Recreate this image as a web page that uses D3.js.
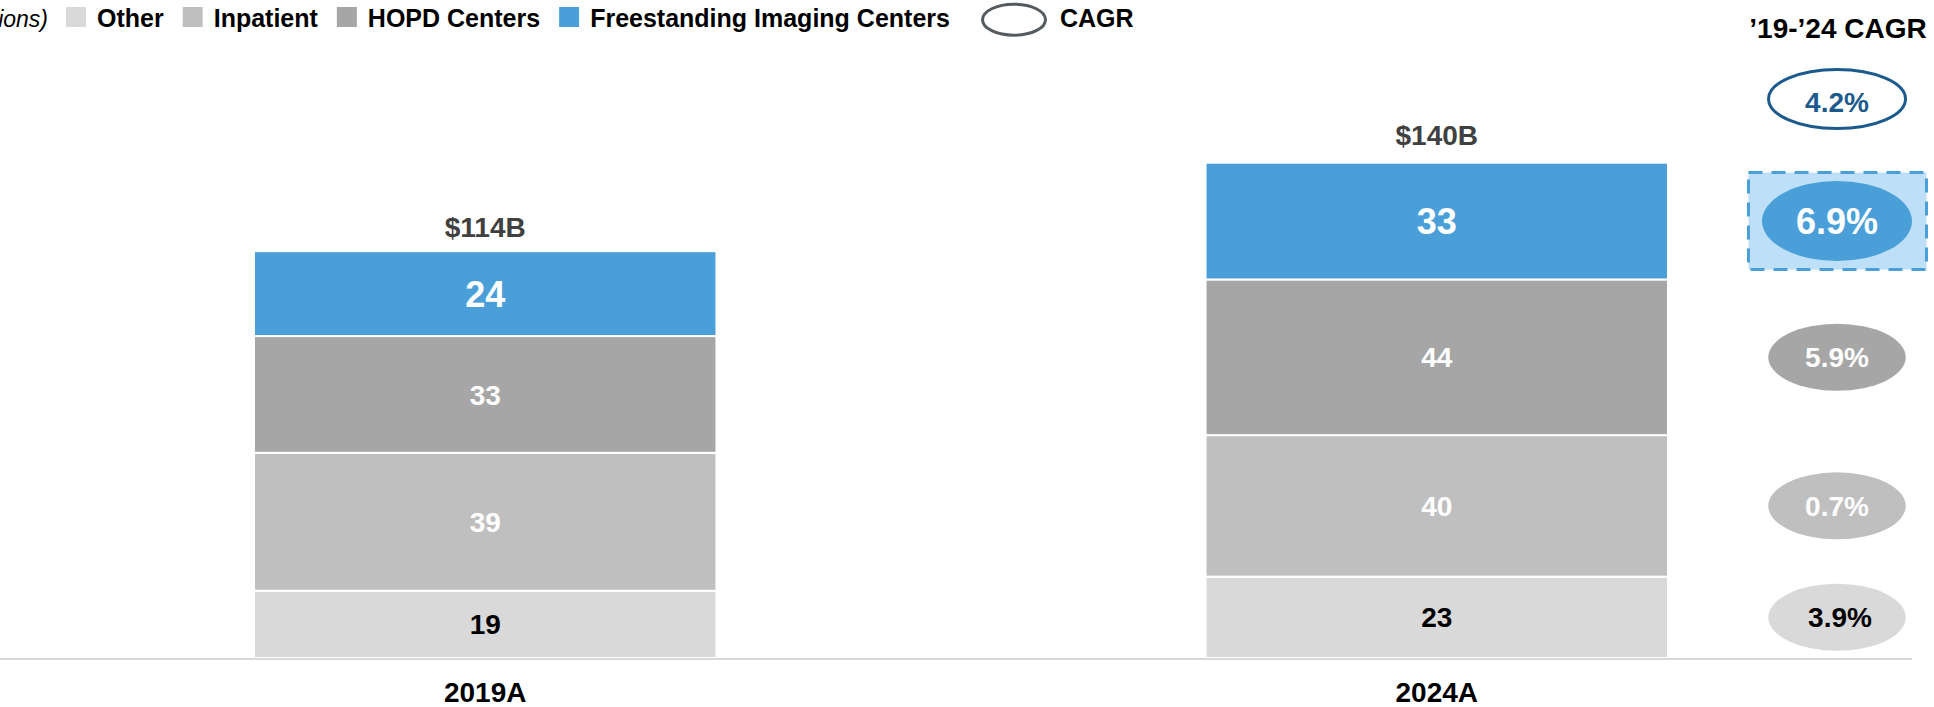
<!DOCTYPE html>
<html>
<head>
<meta charset="utf-8">
<script src="https://cdnjs.cloudflare.com/ajax/libs/d3/7.8.5/d3.min.js"></script>
<style>
    body { margin: 0; background: #fff; }
    text { font-family: "Liberation Sans", Arial, sans-serif; }
</style>
</head>
<body>
<div id="chart"></div>
<script>
// data
var years = ["2019A", "2024A"];
var segments = ["Other", "Inpatient", "HOPD Centers", "Freestanding Imaging Centers"];
var otherVals = [19, 23];
var inpatientVals = [39, 40];
var hopdVals = [33, 44];
var freestandingVals = [24, 33];
var totals = [114, 140];
var cagrLabels = ["3.9%", "0.7%", "5.9%", "6.9%"];   // same order as segments
var totalCagr = "4.2%";

var segColors = ["#d9d9d9", "#bfbfbf", "#a6a6a6", "#4a9fd8"];
var segText = ["#000000", "#ffffff", "#ffffff", "#ffffff"];

var width = 1934, height = 707;
var baseY = 658;

var svg = d3.select("#chart").append("svg")
        .attr("width", width)
        .attr("height", height);

var x = d3.scaleBand()
        .domain(years)
        .range([254, 1668])
        .paddingInner(0.514)
        .paddingOuter(0);

var y = d3.scaleLinear()
        .domain([0, 140])
        .range([baseY, 162.7]);

// build rows for the stack
var rows = years.map(function (yr, i) {
    return {
        year: yr,
        "Other": otherVals[i],
        "Inpatient": inpatientVals[i],
        "HOPD Centers": hopdVals[i],
        "Freestanding Imaging Centers": freestandingVals[i]
    };
});
var stacked = d3.stack().keys(segments)(rows);

var layers = svg.selectAll("g.layer")
        .data(stacked)
        .enter().append("g")
        .attr("class", "layer");

layers.selectAll("rect")
        .data(function (d) { return d; })
        .enter().append("rect")
        .attr("x", function (d) { return x(d.data.year); })
        .attr("y", function (d) { return y(d[1]); })
        .attr("width", x.bandwidth())
        .attr("height", function (d) { return y(d[0]) - y(d[1]); })
        .attr("fill", function () { return segColors[d3.select(this.parentNode).datum().index]; })
        .attr("stroke", "#fff")
        .attr("stroke-width", 2);

layers.selectAll("text")
        .data(function (d) { return d; })
        .enter().append("text")
        .attr("x", function (d) { return x(d.data.year) + x.bandwidth() / 2; })
        .attr("y", function (d) { return (y(d[0]) + y(d[1])) / 2; })
        .attr("dy", "0.36em")
        .attr("text-anchor", "middle")
        .attr("font-weight", "bold")
        .attr("font-size", function () {
            return d3.select(this.parentNode).datum().index === 3 ? 36 : 28;
        })
        .attr("fill", function () { return segText[d3.select(this.parentNode).datum().index]; })
        .text(function (d) { return d[1] - d[0]; });

// totals above bars
svg.selectAll("text.total")
        .data(totals)
        .enter().append("text")
        .attr("class", "total")
        .attr("x", function (d, i) { return x(years[i]) + x.bandwidth() / 2; })
        .attr("y", function (d) { return y(d) - 18; })
        .attr("text-anchor", "middle")
        .attr("font-weight", "bold")
        .attr("font-size", 28)
        .attr("fill", "#404040")
        .text(function (d) { return "$" + d + "B"; });

// baseline
svg.append("line")
        .attr("x1", 0)
        .attr("x2", 1912)
        .attr("y1", baseY + 1)
        .attr("y2", baseY + 1)
        .attr("stroke", "#d9d9d9")
        .attr("stroke-width", 2);

// category labels
svg.selectAll("text.year")
        .data(years)
        .enter().append("text")
        .attr("class", "year")
        .attr("x", function (d) { return x(d) + x.bandwidth() / 2; })
        .attr("y", 702)
        .attr("text-anchor", "middle")
        .attr("font-weight", "bold")
        .attr("font-size", 28)
        .attr("fill", "#000")
        .text(function (d) { return d; });

// CAGR column, lined up with the 2024 segments
var cx = 1837;
svg.append("text")
        .attr("x", 1838)
        .attr("y", 38)
        .attr("text-anchor", "middle")
        .attr("font-weight", "bold")
        .attr("font-size", 28)
        .attr("fill", "#000")
        .text("\u201919-\u201924 CAGR");

svg.append("ellipse")
        .attr("cx", cx)
        .attr("cy", 99)
        .attr("rx", 68.5)
        .attr("ry", 29.5)
        .attr("fill", "#fff")
        .attr("stroke", "#1c5a8e")
        .attr("stroke-width", 3);
svg.append("text")
        .attr("x", cx)
        .attr("y", 102)
        .attr("dy", "0.36em")
        .attr("text-anchor", "middle")
        .attr("font-weight", "bold")
        .attr("font-size", 28)
        .attr("fill", "#1c5a8e")
        .text(totalCagr);

// highlight box behind freestanding CAGR
var fsMid = (stacked[3][1][0] + stacked[3][1][1]) / 2;
svg.append("rect")
        .attr("x", 1748.5)
        .attr("y", y(fsMid) - 48.5)
        .attr("width", 178)
        .attr("height", 97)
        .attr("fill", "#bde0f8")
        .attr("stroke", "#4a9fd8")
        .attr("stroke-width", 3)
        .attr("stroke-dasharray", "14,9");

var cagrG = svg.selectAll("g.cagr")
        .data(stacked)
        .enter().append("g")
        .attr("class", "cagr")
        .attr("transform", function (d) {
            var mid = (d[1][0] + d[1][1]) / 2;
            return "translate(" + cx + "," + y(mid) + ")";
        });

cagrG.append("ellipse")
        .attr("rx", function (d) { return d.index === 3 ? 75 : 68.7; })
        .attr("ry", function (d) { return d.index === 3 ? 40 : 33.5; })
        .attr("fill", function (d) { return segColors[d.index]; });

cagrG.append("text")
        .attr("x", function (d) { return d.index === 0 ? 3 : 0; })
        .attr("dy", "0.36em")
        .attr("text-anchor", "middle")
        .attr("font-weight", "bold")
        .attr("font-size", function (d) { return d.index === 3 ? 36 : 28; })
        .attr("fill", function (d) { return segText[d.index]; })
        .text(function (d) { return cagrLabels[d.index]; });

// legend
var legend = svg.append("g").attr("class", "legend");
legend.append("text")
        .attr("x", 48)
        .attr("y", 27)
        .attr("text-anchor", "end")
        .attr("font-style", "italic")
        .attr("font-size", 23)
        .attr("fill", "#000")
        .text("($ in billions)");

var lx = 66;
segments.forEach(function (s, i) {
    legend.append("rect")
            .attr("x", lx)
            .attr("y", 7)
            .attr("width", 20)
            .attr("height", 20)
            .attr("fill", segColors[i]);
    var t = legend.append("text")
            .attr("x", lx + 31)
            .attr("y", 27)
            .attr("font-weight", "bold")
            .attr("font-size", 25)
            .attr("fill", "#000")
            .text(s);
    lx = lx + 31 + t.node().getComputedTextLength() + 19;
});

legend.append("ellipse")
        .attr("cx", 1014)
        .attr("cy", 19.7)
        .attr("rx", 31.5)
        .attr("ry", 15.5)
        .attr("fill", "none")
        .attr("stroke", "#555a5e")
        .attr("stroke-width", 3);
legend.append("text")
        .attr("x", 1060)
        .attr("y", 27)
        .attr("font-weight", "bold")
        .attr("font-size", 25)
        .attr("fill", "#000")
        .text("CAGR");
</script>
</body>
</html>
